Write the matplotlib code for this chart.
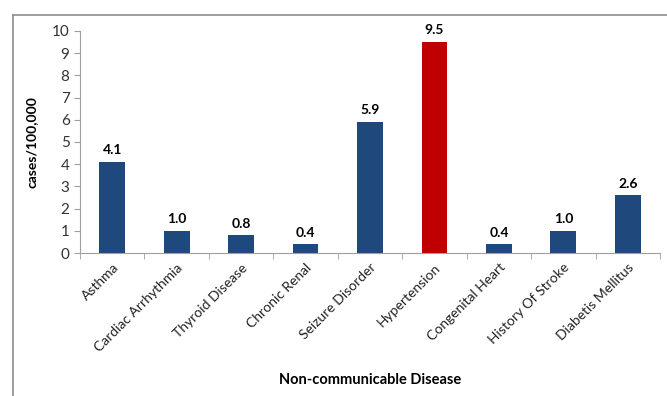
import matplotlib.pyplot as plt
from matplotlib.lines import Line2D
import numpy as np

plt.rcParams['font.family'] = ['Lato', 'DejaVu Sans']

diseases = ['Asthma', 'Cardiac Arrhythmia', 'Thyroid Disease', 'Chronic Renal',
            'Seizure Disorder', 'Hypertension', 'Congenital Heart',
            'History Of Stroke', 'Diabetis Mellitus']
rates = [4.1, 1.0, 0.8, 0.4, 5.9, 9.5, 0.4, 1.0, 2.6]
highlight = 'Hypertension'

colors = ['#C00000' if d == highlight else '#1F497D' for d in diseases]

fig = plt.figure(figsize=(6.67, 3.96), dpi=100)
ax = fig.add_axes([0.12, 0.361, 0.8695, 0.561])

x = np.arange(len(diseases))
bars = ax.bar(x, rates, width=0.4, color=colors)
for b, v in zip(bars, rates):
    ax.text(b.get_x() + b.get_width() / 2, v + 0.25, f'{v:.1f}',
            ha='center', va='bottom', fontsize=10, fontweight='bold')

ax.set_xlim(-0.5, len(diseases) - 0.5)
ax.set_ylim(0, 10)
ax.set_yticks(range(0, 11))
ax.set_xticks(x)
ax.set_xticklabels(diseases, rotation=45, ha='right', rotation_mode='anchor',
                   fontsize=10, color='#222222')
ax.set_xticks(np.arange(-0.5, len(diseases)), minor=True)
ax.tick_params(axis='x', which='major', length=0, pad=6)
ax.tick_params(axis='x', which='minor', length=4, color='#A0A0A0')
ax.tick_params(axis='y', length=4, color='#A0A0A0', labelsize=11,
               labelcolor='#333333')

for s in ['top', 'right']:
    ax.spines[s].set_visible(False)
for s in ['left', 'bottom']:
    ax.spines[s].set_color('#A0A0A0')

ax.set_ylabel('cases/100,000', fontsize=10, fontweight='bold', labelpad=10)
ax.set_xlabel('Non-communicable Disease', fontsize=10.5, fontweight='bold',
              labelpad=14)

# outer frame lines (top and left)
fig.add_artist(Line2D([13 / 667, 1], [1 - 14.5 / 396] * 2, color='#8C8C8C',
                      lw=1.2, transform=fig.transFigure))
fig.add_artist(Line2D([13 / 667] * 2, [0, 1 - 14.5 / 396], color='#8C8C8C',
                      lw=1.2, transform=fig.transFigure))

fig.savefig('out.png', dpi=100)
